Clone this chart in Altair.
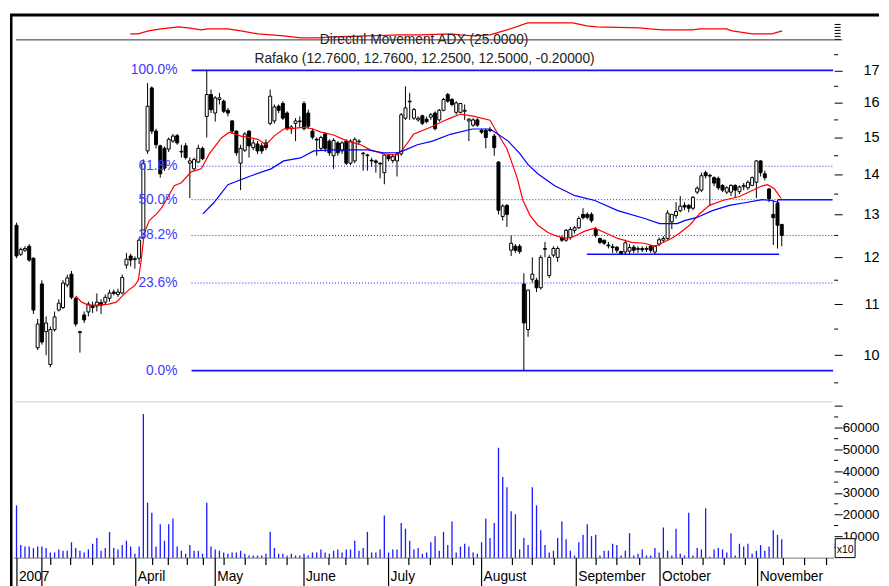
import altair as alt
import pandas as pd

FONT = "Liberation Sans"
FS = 13.8
W = 823
H_ADX, H_PRICE, H_VOL = 25, 362, 158

# ---------------- candles (Rafako, daily) ----------------
open_ = [12.74, 12.07, 12.16, 12.25, 11.98, 10.14, 11.42, 10.45, 9.83, 10.49,
         10.88, 10.93, 11.40, 11.63, 11.12, 10.43, 10.78, 10.84, 10.97, 10.96,
         11.03, 11.04, 11.12, 11.25, 11.20, 11.23, 11.83, 12.03, 11.95, 11.98,
         12.45, 14.63, 16.45, 15.18, 14.77, 14.70, 14.68, 14.90, 15.05, 14.60,
         14.77, 14.30, 14.15, 14.33, 14.70, 15.60, 16.25, 15.70, 16.10, 16.05,
         15.78, 15.47, 15.18, 14.30, 14.65, 15.18, 14.72, 14.82, 14.77, 14.85,
         15.40, 15.47, 15.90, 15.98, 15.70, 15.25, 15.40, 15.45, 15.98, 15.70,
         15.18, 14.95, 14.70, 15.10, 14.90, 14.50, 14.85, 14.63, 14.90, 14.30,
         14.36, 14.88, 14.55, 14.50, 14.38, 14.36, 14.30, 14.05, 14.50, 14.37,
         14.36, 14.55, 15.55, 16.05, 15.55, 15.50, 15.62, 15.52, 15.58, 15.70,
         15.50, 15.78, 16.25, 16.10, 15.72, 15.72, 15.75, 15.47, 15.35, 15.50,
         15.20, 15.20, 15.22, 15.04, 14.33, 12.95, 13.22, 12.16, 12.25, 12.25,
         11.42, 10.49, 11.52, 11.50, 11.34, 12.18, 11.60, 12.05, 12.00, 12.45,
         12.39, 12.45, 12.62, 12.68, 13.00, 13.00, 13.00, 12.64, 12.43, 12.39,
         12.28, 12.24, 12.23, 12.13, 12.12, 12.14, 12.23, 12.18, 12.20, 12.18,
         12.25, 12.12, 12.30, 12.39, 12.43, 12.82, 12.97, 13.09, 13.22, 13.22,
         13.15, 13.55, 13.60, 14.05, 13.98, 13.92, 13.90, 13.72, 13.55, 13.55,
         13.72, 13.56, 13.69, 13.66, 13.72, 13.80, 14.36, 14.02, 13.63, 13.00,
         13.27, 12.76]
high_ = [12.80, 12.22, 12.25, 12.30, 12.00, 10.70, 11.50, 10.75, 10.55, 10.85,
         11.10, 11.50, 11.62, 11.70, 11.15, 10.47, 10.85, 11.05, 11.05, 11.22,
         11.10, 11.20, 11.30, 11.30, 11.32, 11.62, 12.10, 12.08, 12.02, 12.45,
         14.40, 16.60, 16.50, 15.25, 14.80, 14.75, 15.00, 15.10, 15.10, 14.80,
         14.85, 14.45, 14.45, 14.80, 14.75, 17.00, 16.40, 16.20, 16.30, 16.10,
         15.85, 15.50, 15.20, 14.80, 15.15, 15.20, 14.95, 14.90, 14.85, 14.95,
         16.40, 15.95, 15.95, 16.05, 15.75, 15.35, 15.55, 15.60, 16.05, 15.80,
         15.25, 15.00, 15.05, 15.15, 14.95, 14.98, 14.90, 14.90, 14.95, 14.95,
         15.00, 14.95, 14.60, 14.55, 14.45, 14.40, 14.32, 14.55, 14.55, 14.55,
         14.60, 15.70, 16.50, 16.30, 15.85, 15.60, 15.65, 15.60, 15.70, 15.75,
         15.82, 16.15, 16.30, 16.15, 16.05, 16.00, 15.95, 15.55, 15.55, 15.55,
         15.25, 15.25, 15.30, 15.10, 14.35, 13.25, 13.25, 12.50, 12.30, 12.30,
         11.65, 11.30, 12.00, 11.55, 12.05, 12.35, 12.05, 12.25, 12.25, 12.50,
         12.65, 12.70, 12.72, 12.95, 13.15, 13.05, 13.05, 12.70, 12.45, 12.40,
         12.35, 12.30, 12.25, 12.15, 12.40, 12.30, 12.28, 12.25, 12.25, 12.25,
         12.28, 12.28, 12.45, 12.48, 13.10, 13.00, 13.30, 13.45, 13.30, 13.25,
         13.45, 13.70, 14.05, 14.10, 14.02, 13.95, 13.95, 13.75, 13.70, 13.75,
         13.75, 13.72, 13.78, 13.85, 13.95, 14.38, 14.38, 14.10, 13.65, 13.35,
         13.35, 12.76]
low_ = [11.98, 12.03, 12.12, 11.90, 10.80, 10.10, 10.20, 10.00, 9.78, 10.45,
        10.85, 10.90, 11.35, 11.10, 10.55, 10.05, 10.62, 10.75, 10.82, 10.85,
        10.80, 11.00, 11.05, 11.18, 11.15, 11.20, 11.75, 11.80, 11.75, 11.85,
        12.40, 14.55, 15.10, 14.70, 13.92, 14.10, 14.60, 14.85, 14.80, 14.45,
        14.40, 13.40, 14.10, 14.30, 14.38, 15.00, 15.70, 15.45, 15.95, 15.70,
        15.60, 15.10, 14.50, 13.60, 14.60, 14.45, 14.65, 14.55, 14.55, 14.65,
        15.35, 15.40, 15.70, 15.50, 15.20, 15.10, 14.90, 15.30, 15.20, 15.25,
        14.95, 14.50, 14.65, 14.60, 14.50, 14.15, 14.50, 14.55, 14.25, 14.25,
        14.30, 14.80, 14.10, 14.10, 14.20, 14.05, 13.90, 13.75, 14.35, 14.30,
        13.95, 14.50, 15.50, 15.50, 15.50, 15.45, 15.35, 15.40, 15.50, 15.20,
        15.45, 15.75, 16.00, 15.90, 15.65, 15.70, 15.50, 14.90, 15.30, 15.30,
        15.10, 14.70, 15.15, 14.50, 13.00, 12.85, 12.70, 12.03, 12.10, 12.08,
        9.72, 10.35, 11.45, 11.25, 11.30, 12.00, 11.55, 12.00, 11.90, 12.35,
        12.35, 12.40, 12.55, 12.65, 12.88, 12.88, 12.80, 12.45, 12.30, 12.28,
        12.20, 12.10, 12.10, 12.07, 12.07, 12.07, 12.10, 12.10, 12.12, 12.12,
        12.10, 12.07, 12.25, 12.35, 12.40, 12.65, 12.90, 13.05, 13.10, 13.05,
        13.10, 13.50, 13.55, 13.90, 13.20, 13.70, 13.60, 13.55, 13.50, 13.45,
        13.40, 13.50, 13.60, 13.60, 13.70, 13.40, 13.95, 13.85, 13.30, 12.28,
        12.20, 12.25]
close_ = [12.03, 12.18, 12.20, 11.94, 10.88, 10.60, 10.25, 10.62, 10.49, 10.74,
          11.02, 11.44, 11.55, 11.14, 10.60, 10.45, 10.68, 11.00, 10.93, 11.04,
          10.98, 11.14, 11.23, 11.22, 11.25, 11.56, 11.96, 11.94, 11.97, 12.39,
          14.30, 15.90, 15.18, 14.80, 14.02, 14.17, 14.95, 15.04, 14.85, 14.62,
          14.45, 14.36, 14.40, 14.70, 14.42, 16.25, 15.80, 16.15, 16.15, 15.75,
          15.70, 15.18, 14.58, 14.70, 15.10, 14.77, 14.85, 14.63, 14.63, 14.72,
          16.20, 15.88, 15.78, 15.55, 15.25, 15.30, 15.47, 15.47, 15.25, 15.32,
          15.01, 14.93, 15.00, 14.70, 14.58, 14.92, 14.58, 14.85, 14.30, 14.90,
          14.95, 14.90, 14.57, 14.52, 14.36, 14.32, 14.28, 14.52, 14.42, 14.48,
          14.55, 15.65, 15.85, 16.03, 15.80, 15.55, 15.40, 15.45, 15.65, 15.25,
          15.78, 16.10, 16.05, 15.95, 16.00, 15.98, 15.78, 15.52, 15.50, 15.35,
          15.15, 15.00, 15.20, 14.72, 13.10, 13.20, 13.00, 12.32, 12.16, 12.13,
          10.62, 11.29, 11.63, 11.34, 12.00, 12.20, 12.00, 12.20, 12.20, 12.39,
          12.62, 12.64, 12.68, 12.90, 12.92, 12.93, 12.85, 12.50, 12.34, 12.32,
          12.26, 12.22, 12.16, 12.09, 12.33, 12.22, 12.16, 12.20, 12.17, 12.20,
          12.16, 12.25, 12.40, 12.43, 13.03, 13.00, 13.07, 13.20, 13.18, 13.15,
          13.42, 13.65, 13.97, 13.97, 13.96, 13.78, 13.66, 13.60, 13.66, 13.72,
          13.60, 13.68, 13.72, 13.80, 13.92, 14.36, 14.05, 13.92, 13.38, 12.92,
          12.74, 12.50]

# volume (axis units, x10)
volume = [24300, 6000, 5350, 5350, 4600, 5350, 5350, 4600, 2600, 2600,
          4000, 3400, 3400, 7300, 4600, 3400, 2600, 4000, 6600, 9300,
          3400, 4600, 12100, 4600, 4000, 6000, 8000, 5350, 2000, 5350,
          66400, 25500, 20900, 5350, 15600, 8000, 15600, 18200, 5350, 3400,
          2000, 6000, 3400, 3400, 2000, 25500, 5350, 4000, 3400, 2600,
          2000, 2600, 2600, 3400, 2000, 1200, 1200, 1200, 1200, 2000,
          12100, 4600, 2000, 2000, 1200, 2000, 1200, 1200, 2000, 1200,
          2600, 2600, 4000, 2600, 2000, 3400, 4000, 2600, 4000, 4000,
          8000, 3400, 4600, 12100, 2600, 2600, 4000, 19600, 2600, 4000,
          4000, 16200, 13500, 8000, 4000, 4600, 2000, 2600, 7300, 10100,
          3400, 12100, 6000,
          16800, 2600, 5350, 6600, 5350, 2600, 2000, 7300, 18200, 9300,
          16200, 50800, 37300, 32600, 21600, 20200, 4000, 9300, 6000, 32600,
          24300, 12800, 6000, 2600, 3400, 9300, 16800, 8700, 3400, 1200,
          7300, 10700, 15600, 10100, 10700, 1200, 3400, 3400, 6600, 6000,
          1200, 3400, 11500, 1200, 2000, 4000, 1200, 1200, 4600, 2600,
          14100, 3400, 1200, 13500, 2000, 1200, 20900, 1200, 4600, 4000,
          22900, 600, 4000, 4600, 4000, 2600, 11500, 1200, 6600, 5350,
          6600, 2000, 3400, 6000, 3400, 5350, 12800, 10700, 8700]

# moving averages (day index, price)
red_ma_idx = [14.0, 15.4, 17.0, 19.4, 21.8, 23.6, 24.8, 26.5, 27.9, 28.8,
              29.5, 30.2, 31.4, 33.1, 34.2, 35.9, 37.3, 39.0, 41.3, 43.7,
              45.6, 48.4, 50.3, 53.1, 57.1, 59.0, 60.9, 63.2, 65.6, 68.0,
              70.1, 72.0, 75.0, 78.3, 81.4, 83.7, 86.8, 90.1, 91.5, 93.9,
              97.9, 101.0, 102.6, 105.0, 108.0, 112.0, 113.9, 116.0, 118.4, 119.8,
              121.5, 123.3, 125.7, 127.3, 129.7, 131.4, 132.8, 134.4, 136.8, 139.1,
              142.2, 145.5, 148.6, 150.9, 152.6, 154.9, 156.8, 159.2, 161.5, 163.9,
              167.0, 171.0, 174.0, 176.4, 177.6, 179.2, 180.9]
red_ma_val = [11.17, 11.04, 10.98, 10.98, 11.00, 11.04, 11.15, 11.29, 11.38, 11.50,
              11.94, 12.55, 12.85, 13.01, 13.14, 13.44, 13.71, 13.79, 14.07, 14.15,
              14.55, 14.98, 15.15, 15.04, 14.95, 14.80, 15.04, 15.24, 15.26, 15.29,
              15.24, 15.15, 15.07, 14.90, 14.80, 14.66, 14.55, 14.52, 14.69, 15.09,
              15.29, 15.47, 15.55, 15.67, 15.61, 15.49, 15.09, 14.69, 13.92, 13.34,
              12.97, 12.74, 12.57, 12.50, 12.43, 12.46, 12.52, 12.60, 12.67, 12.57,
              12.43, 12.34, 12.32, 12.25, 12.32, 12.43, 12.55, 12.74, 13.01, 13.22,
              13.34, 13.44, 13.59, 13.71, 13.74, 13.64, 13.39]
blue_ma_idx = [44.1, 46.7, 50.0, 55.5, 60.2, 63.2, 67.2, 70.3, 75.0, 83.0,
               86.8, 90.1, 92.0, 94.8, 98.4, 102.6, 107.8, 112.0, 113.9, 116.3,
               119.1, 121.0, 123.3, 127.3, 132.1, 136.8, 142.2, 148.6, 152.1, 156.3,
               158.0, 160.8, 164.6, 168.6, 172.6, 176.4, 178.5, 180.4]
blue_ma_val = [13.01, 13.29, 13.74, 13.97, 14.15, 14.36, 14.44, 14.63, 14.66, 14.66,
               14.58, 14.58, 14.66, 14.80, 14.90, 15.09, 15.24, 15.24, 15.09, 14.90,
               14.55, 14.26, 14.02, 13.71, 13.46, 13.34, 13.09, 12.90, 12.78, 12.78,
               12.85, 12.92, 13.09, 13.22, 13.29, 13.36, 13.34, 13.29]

# ADX line
adx_idx = [26.9, 28.8, 31.2, 34.2, 38.3, 40.6, 43.7, 45.3, 50.0, 53.1,
           57.1, 63.2, 67.2, 71.2, 75.0, 83.0, 90.8, 95.5, 102.6, 104.9,
           108.0, 112.0, 116.0, 120.9, 123.8, 131.6, 134.9, 137.2, 147.4, 149.7,
           152.8, 159.9, 161.5, 167.9, 169.3, 174.0, 178.7, 181.1]
adx_val = [12, 12, 18, 22, 26, 24, 20, 22, 22, 18,
           12, 8, 4, 4, 6, 8, 10, 10, 12, 10,
           8, 10, 20, 34, 34, 34, 28, 26, 24, 22,
           20, 20, 22, 22, 18, 12, 12, 18]

# Fibonacci retracement (high 17.00, low 9.72)
fib_labels = ["0.0%", "23.6%", "38.2%", "50.0%", "61.8%", "100.0%"]
fib_levels = [9.72, 11.44, 12.50, 13.36, 14.22, 17.00]
fib_solid = [True, False, False, False, False, True]
fib_start = 41.4

# horizontal trend lines
line_start = [134.9, 180.0]
line_end = [180.4, 193.0]
line_price = [12.07, 13.36]

# axis ticks
price_ticks = [10, 11, 12, 13, 14, 15, 16, 17]
price_minor = [9.5, 10.5, 11.5, 12.5, 13.5, 14.5, 15.5, 16.5, 17.5]
vol_ticks = [10000, 20000, 30000, 40000, 50000, 60000, 70000]
vol_minor = [5000, 15000, 25000, 35000, 45000, 55000, 65000]
adx_ticks = [2, 8, 14, 20, 26, 32]
month_names = ["2007", "", "April", "May", "June", "July", "August",
               "September", "October", "November"]
month_pos = [0.1, 6.0, 28.2, 47.0, 68.0, 88.0, 110.0, 132.4, 152.2, 175.3]
week_pos = [8.1, 12.8, 18.0, 23.0, 32.2, 35.9, 40.4, 44.2, 49.1, 54.1, 59.0,
            64.0, 73.9, 77.9, 83.1, 92.8, 97.9, 103.1, 108.1, 117.3, 122.0,
            127.2, 137.1, 142.0, 147.4, 157.5, 162.4, 167.4, 172.4, 181.4,
            186.4, 191.6]

adx_title = "Directnl Movement ADX (25.0000)"
price_title = "Rafako (12.7600, 12.7600, 12.2500, 12.5000, -0.20000)"

# ---------------- data frames ----------------
cdf = pd.DataFrame({"i": list(range(len(close_))), "o": open_, "h": high_,
                    "l": low_, "c": close_})
cdf["bot"] = cdf[["o", "c"]].min(axis=1)
cdf["top"] = cdf[["o", "c"]].max(axis=1)
vdf = pd.DataFrame({"i": list(range(len(volume))), "vol": volume})
rdf = pd.DataFrame({"i": red_ma_idx, "v": red_ma_val})
bdf = pd.DataFrame({"i": blue_ma_idx, "v": blue_ma_val})
adf = pd.DataFrame({"i": adx_idx, "v": adx_val})
fdf = pd.DataFrame({"level": fib_levels, "label": fib_labels,
                    "solid": fib_solid, "start": [fib_start] * len(fib_levels)})
ldf = pd.DataFrame({"start": line_start, "end": line_end, "price": line_price})
one = pd.DataFrame({"t": [""]})

XS = alt.Scale(domain=[-0.6, 193.4], nice=False, zero=False, padding=0)
RIGHT = 868    # right-most extent of the drawing
BOTTOM = 186   # lowest drawn pixel below the volume panel top


def X(f):
    return alt.X(f + ":Q", scale=XS, axis=None)


# ---------------- ADX panel ----------------
YA = alt.Scale(domain=[0, 50], nice=False)
axA = alt.Axis(orient="right", values=adx_ticks, labels=False, tickSize=6,
               tickColor="black", domain=False, grid=False, title=None)
adx_line = alt.Chart(adf).mark_line(color="#ff0000", strokeWidth=1.3).encode(
    x=X("i"), y=alt.Y("v:Q", scale=YA, axis=axA))
adx_text = alt.Chart(pd.DataFrame({"t": [adx_title]})).mark_text(
    align="center", baseline="alphabetic", font=FONT, fontSize=FS, color="#222222"
).encode(x=alt.value(411.5), y=alt.value(29.2), text="t:N")
top_border = alt.Chart(one).mark_rule(color="black", strokeWidth=3).encode(
    x=alt.value(-4), x2=alt.value(RIGHT), y=alt.value(0))
left_border = alt.Chart(one).mark_rule(color="black", strokeWidth=2.5).encode(
    x=alt.value(-2.75), y=alt.value(0), y2=alt.value(H_ADX + H_PRICE + BOTTOM))
adx_panel = alt.layer(adx_line, adx_text, top_border, left_border).properties(
    width=W, height=H_ADX)

# ---------------- price panel ----------------
YP = alt.Scale(type="log", domain=[9.19, 17.99], nice=False)
axP = alt.Axis(orient="right", values=price_ticks, format="d", tickSize=8,
               tickColor="black", labelPadding=RIGHT - W - 8, labelAlign="right",
               labelBaseline="middle", labelFont=FONT, labelFontSize=14.5,
               labelColor="black", domain=False, grid=False, title=None)


def YPr(f):
    return alt.Y(f + ":Q", scale=YP, axis=axP)


sep = alt.Chart(one).mark_rule(color="#333333", strokeWidth=1).encode(
    x=alt.value(2), x2=alt.value(831), y=alt.value(0))
fib_dot = alt.Chart(fdf).transform_filter("!datum.solid").mark_rule(
    color="#2020ff", strokeWidth=1, strokeDash=[1, 2]).encode(
    x=X("start"), x2=alt.value(822), y=YPr("level"))
fib_sol = alt.Chart(fdf).transform_filter("datum.solid").mark_rule(
    color="#1010ff", strokeWidth=1.8).encode(
    x=X("start"), x2=alt.value(822), y=YPr("level"))
fib_txt = alt.Chart(fdf).mark_text(
    align="right", baseline="middle", font=FONT, fontSize=FS, color="#3a3aff"
).encode(x=alt.value(164), y=YPr("level"), text="label:N")
tlines = alt.Chart(ldf).mark_rule(color="#1010ff", strokeWidth=1.6).encode(
    x=X("start"), x2="end:Q", y=YPr("price"))
wick = alt.Chart(cdf).mark_rule(color="black", strokeWidth=1).encode(
    x=X("i"), y=YPr("l"), y2="h:Q")
body = alt.Chart(cdf).mark_bar(size=3, stroke="black", strokeWidth=1).encode(
    x=X("i"), y=YPr("bot"), y2="top:Q",
    fill=alt.condition("datum.c >= datum.o", alt.value("white"), alt.value("black")))
red_ma = alt.Chart(rdf).mark_line(color="#ff0000", strokeWidth=1.2).encode(
    x=X("i"), y=YPr("v"))
blue_ma = alt.Chart(bdf).mark_line(color="#0000ff", strokeWidth=1.2).encode(
    x=X("i"), y=YPr("v"))
pminor = alt.Chart(pd.DataFrame({"v": price_minor})).mark_rule(
    color="black", strokeWidth=1).encode(
    y=YPr("v"), x=alt.value(823), x2=alt.value(827))
ptitle = alt.Chart(pd.DataFrame({"t": [price_title]})).mark_text(
    align="center", baseline="alphabetic", font=FONT, fontSize=FS, color="#222222"
).encode(x=alt.value(412), y=alt.value(23.5), text="t:N")
price_panel = alt.layer(fib_dot, fib_sol, tlines, wick, body, red_ma, blue_ma,
                        fib_txt, pminor, ptitle, sep).properties(
    width=W, height=H_PRICE)

# ---------------- volume panel ----------------
YV = alt.Scale(domain=[0, 72500], nice=False)
axV = alt.Axis(orient="right", values=vol_ticks, format="d", tickSize=8,
               tickColor="black", labelPadding=RIGHT - W - 8, labelAlign="right",
               labelBaseline="middle", labelFont=FONT, labelFontSize=13.3,
               labelColor="black", domain=False, grid=False, title=None,
               labelExpr="datum.value == 70000 ? '' : datum.label")
vbars = alt.Chart(vdf).mark_bar(size=1.3, color="#1a1aff").encode(
    x=X("i"), y=alt.Y("vol:Q", scale=YV, axis=axV))
vminor = alt.Chart(pd.DataFrame({"v": vol_minor})).mark_rule(
    color="black", strokeWidth=1).encode(
    y=alt.Y("v:Q", scale=YV, axis=axV), x=alt.value(823), x2=alt.value(827))
vtop = alt.Chart(one).mark_rule(color="#cccccc", strokeWidth=1).encode(
    x=alt.value(1), x2=alt.value(821), y=alt.value(1.2))
vbase = alt.Chart(one).mark_rule(color="#777777", strokeWidth=1).encode(
    x=alt.value(0), x2=alt.value(823), y=alt.value(158))
mdf = pd.DataFrame({"pos": month_pos, "name": month_names})
wdf = pd.DataFrame({"pos": week_pos})
mticks = alt.Chart(mdf).mark_rule(color="black", strokeWidth=1.2).encode(
    x=X("pos"), y=alt.value(158), y2=alt.value(BOTTOM))
wticks = alt.Chart(wdf).mark_rule(color="black", strokeWidth=1.2).encode(
    x=X("pos"), y=alt.value(158), y2=alt.value(165))
mlabels = alt.Chart(mdf).mark_text(
    align="left", baseline="alphabetic", dx=2, font=FONT, fontSize=FS, color="black"
).encode(x=X("pos"), y=alt.value(180.5), text="name:N")
xbox = alt.Chart(one).mark_rect(fill="white", stroke="black", strokeWidth=1).encode(
    x=alt.value(824), x2=alt.value(844), y=alt.value(138.5), y2=alt.value(157.5))
xtxt = alt.Chart(pd.DataFrame({"t": ["x10"]})).mark_text(
    align="center", baseline="middle", font=FONT, fontSize=10.5, color="black"
).encode(x=alt.value(834), y=alt.value(149.5), text="t:N")
vol_panel = alt.layer(vtop, vbars, vminor, vbase, wticks, mticks, mlabels,
                      xbox, xtxt).properties(width=W, height=H_VOL)

chart = alt.vconcat(adx_panel, price_panel, vol_panel, spacing=0,
                    bounds="flush").properties(
    padding={"left": 0, "top": 4, "right": 0, "bottom": 0},
    background="white",
).configure_view(stroke=None)

chart.save("out.html", embed_options={"renderer": "svg", "actions": False})
